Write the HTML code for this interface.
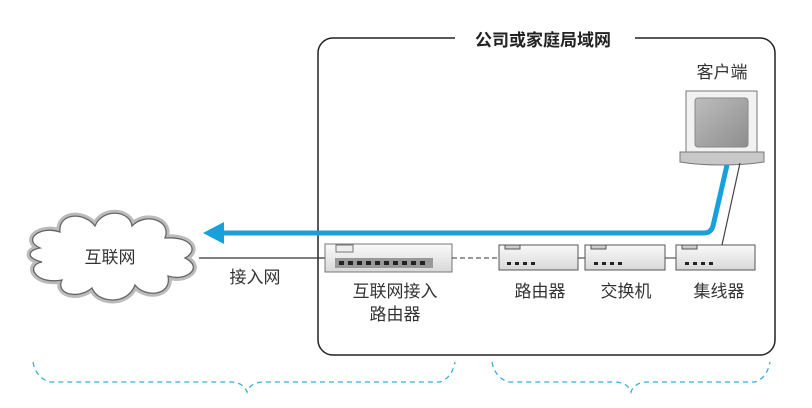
<!DOCTYPE html>
<html><head><meta charset="utf-8"><style>
body{margin:0;width:812px;height:403px;background:#fff;overflow:hidden}
text{font-family:"Liberation Sans","Noto Sans CJK SC",sans-serif;fill:#333;font-size:17px}
</style></head><body>
<svg width="812" height="403" viewBox="0 0 812 403" xmlns="http://www.w3.org/2000/svg">
<defs>
<linearGradient id="g" x1="0" y1="0" x2="0" y2="1"><stop offset="0" stop-color="#fafafa"/><stop offset="1" stop-color="#d8d8d8"/></linearGradient>
<linearGradient id="s" x1="0" y1="0" x2="1" y2="1"><stop offset="0" stop-color="#bdbdbd"/><stop offset="1" stop-color="#8e8e8e"/></linearGradient>
</defs>
<rect x="318" y="38" width="457" height="317" rx="15" fill="none" stroke="#222" stroke-width="1.5"/>
<rect x="455" y="30" width="180" height="18" fill="#fff"/>
<text x="543" y="46" text-anchor="middle" font-weight="bold" style="fill:#222">公司或家庭局域网</text>
<!-- cloud -->
<path d="M40,248 C22,240 40,225 60,232 C58,212 85,212 95,226 C102,208 130,210 132,226 C145,212 172,220 165,238 C190,236 200,250 185,258 C205,268 185,282 168,276 C172,296 145,298 135,285 C128,305 98,304 92,288 C78,300 55,294 62,280 C35,285 25,265 42,262 C25,258 28,250 40,248 Z" fill="#fff" stroke="#bbb" stroke-width="7"/>
<path d="M40,248 C22,240 40,225 60,232 C58,212 85,212 95,226 C102,208 130,210 132,226 C145,212 172,220 165,238 C190,236 200,250 185,258 C205,268 185,282 168,276 C172,296 145,298 135,285 C128,305 98,304 92,288 C78,300 55,294 62,280 C35,285 25,265 42,262 C25,258 28,250 40,248 Z" fill="#fff" stroke="#666" stroke-width="1.3"/>
<text x="110" y="263" text-anchor="middle">互联网</text>
<line x1="199" y1="258" x2="325" y2="258" stroke="#333" stroke-width="1.2"/>
<text x="255" y="283" text-anchor="middle">接入网</text>
<!-- access router -->
<rect x="325" y="244" width="127" height="28" fill="url(#g)" stroke="#777"/>
<rect x="336" y="245" width="17" height="7" fill="#eee" stroke="#777"/>
<rect x="335" y="258" width="98" height="10" fill="#999"/>
<g fill="#222"><rect x="339" y="261" width="5" height="4"/><rect x="348" y="261" width="5" height="4"/><rect x="357" y="261" width="5" height="4"/><rect x="366" y="261" width="5" height="4"/><rect x="375" y="261" width="5" height="4"/><rect x="384" y="261" width="5" height="4"/><rect x="393" y="261" width="5" height="4"/><rect x="402" y="261" width="5" height="4"/><rect x="411" y="261" width="5" height="4"/><rect x="420" y="261" width="5" height="4"/></g>
<line x1="452" y1="258" x2="499" y2="258" stroke="#333" stroke-dasharray="5,3"/>
<line x1="578" y1="258" x2="585" y2="258" stroke="#333"/>
<line x1="665" y1="258" x2="676" y2="258" stroke="#333"/>
<g stroke="#555">
<rect x="499" y="245" width="79" height="25" fill="url(#g)"/><rect x="505" y="245" width="15" height="4" fill="#ccc"/>
<rect x="585" y="245" width="80" height="25" fill="url(#g)"/><rect x="591" y="245" width="15" height="4" fill="#ccc"/>
<rect x="676" y="245" width="79" height="25" fill="url(#g)"/><rect x="682" y="245" width="15" height="4" fill="#ccc"/>
</g>
<g fill="#222">
<rect x="507" y="262" width="4" height="3"/><rect x="515" y="262" width="4" height="3"/><rect x="523" y="262" width="4" height="3"/><rect x="531" y="262" width="4" height="3"/>
<rect x="594" y="262" width="4" height="3"/><rect x="602" y="262" width="4" height="3"/><rect x="610" y="262" width="4" height="3"/><rect x="618" y="262" width="4" height="3"/>
<rect x="685" y="262" width="4" height="3"/><rect x="693" y="262" width="4" height="3"/><rect x="701" y="262" width="4" height="3"/><rect x="709" y="262" width="4" height="3"/>
</g>
<text x="395" y="297" text-anchor="middle">互联网接入</text>
<text x="395" y="320" text-anchor="middle">路由器</text>
<text x="540" y="297" text-anchor="middle">路由器</text>
<text x="626" y="297" text-anchor="middle">交换机</text>
<text x="719" y="297" text-anchor="middle">集线器</text>
<!-- monitor -->
<text x="722" y="78" text-anchor="middle">客户端</text>
<rect x="686" y="91" width="71" height="63" fill="#f2f2f2" stroke="#777"/>
<rect x="695" y="98" width="53" height="49" rx="3" fill="url(#s)" stroke="#888"/>
<path d="M680,152 L764,152 L764,162 C740,166 704,166 680,162 Z" fill="#c8c8c8" stroke="#777"/>
<line x1="740" y1="163" x2="722" y2="245" stroke="#444" stroke-width="1.2"/>
<!-- blue arrow -->
<path d="M727,165 L713,226 Q711,233 704,233 L222,233" fill="none" stroke="#18a0dc" stroke-width="5"/>
<polygon points="203,233 224,222 224,244" fill="#18a0dc"/>
<!-- braces -->
<path d="M33,362 Q36,378 50,382 L232,382 Q244,383 247,392 Q250,383 262,382 L440,382 Q452,378 455,362" fill="none" stroke="#3aaed8" stroke-width="1.3" stroke-dasharray="5,4"/>
<path d="M492,362 Q495,378 509,382 L616,382 Q628,383 631,392 Q634,383 646,382 L755,382 Q767,378 770,362" fill="none" stroke="#3aaed8" stroke-width="1.3" stroke-dasharray="5,4"/>
</svg>
</body></html>
